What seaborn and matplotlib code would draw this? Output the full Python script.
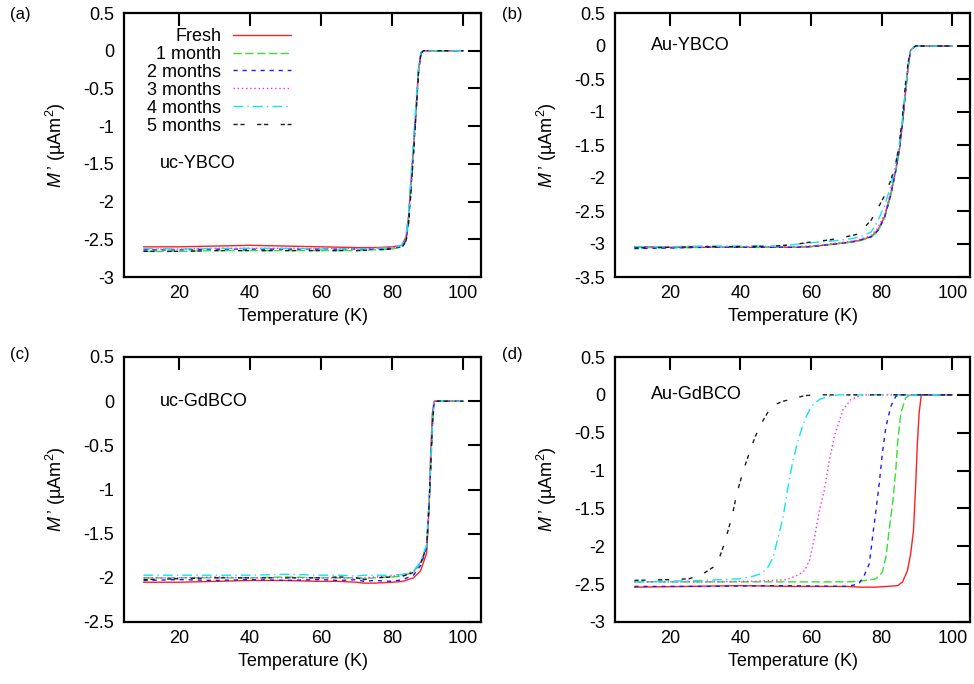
import numpy as np
import pandas as pd
import seaborn as sns
import matplotlib
matplotlib.use("Agg")
import matplotlib.pyplot as plt
from matplotlib.lines import Line2D

sns.set_theme(style="white")
plt.rcParams['font.family'] = ['Liberation Sans', 'DejaVu Sans']
plt.rcParams['axes.unicode_minus'] = False
plt.rcParams['mathtext.fontset'] = 'custom'
plt.rcParams['mathtext.rm'] = 'Liberation Sans'
plt.rcParams['mathtext.it'] = 'Liberation Sans:italic'
plt.rcParams['text.color'] = 'black'
plt.rcParams['axes.labelcolor'] = 'black'
plt.rcParams['xtick.color'] = 'black'
plt.rcParams['ytick.color'] = 'black'

series_labels = ["Fresh", "1 month", "2 months", "3 months", "4 months", "5 months"]
series_colors = ["#ff2020", "#33e033", "#1a1aff", "#ff22ff", "#10e4f0", "#1a1a1a"]
series_dashes = ["-", (0, (6, 2.5)), (0, (3, 3.5)), (0, (1, 2)), (0, (7, 3, 1, 3)), (0, (3, 2, 3, 9))]

# ---------------- panel (a): uc-YBCO ----------------
a_T = [10, 20, 30, 40, 50, 60, 70, 75, 80, 82.7, 83.9, 84.6, 85.2, 86.0, 86.8, 87.4, 88.1, 88.8, 95, 100]
a_fresh = [-2.60, -2.60, -2.59, -2.58, -2.59, -2.60, -2.61, -2.61, -2.60, -2.58, -2.47, -2.20, -1.80, -1.27, -0.70, -0.26, -0.03, 0, 0, 0]
a_m1 = [-2.66, -2.66, -2.65, -2.65, -2.65, -2.65, -2.65, -2.64, -2.63, -2.60, -2.50, -2.25, -1.85, -1.30, -0.72, -0.27, -0.03, 0, 0, 0]
a_m2 = [-2.64, -2.64, -2.63, -2.63, -2.63, -2.63, -2.63, -2.63, -2.62, -2.60, -2.52, -2.28, -1.90, -1.35, -0.75, -0.28, -0.04, 0, 0, 0]
a_m3 = [-2.63, -2.63, -2.62, -2.62, -2.62, -2.62, -2.62, -2.62, -2.61, -2.59, -2.49, -2.22, -1.82, -1.28, -0.71, -0.26, -0.03, 0, 0, 0]
a_m4 = [-2.62, -2.63, -2.62, -2.62, -2.62, -2.63, -2.63, -2.62, -2.61, -2.58, -2.45, -2.15, -1.72, -1.18, -0.62, -0.22, -0.02, 0, 0, 0]
a_m5 = [-2.66, -2.66, -2.65, -2.65, -2.65, -2.65, -2.65, -2.64, -2.63, -2.61, -2.53, -2.30, -1.93, -1.38, -0.78, -0.30, -0.04, 0, 0, 0]

# ---------------- panel (b): Au-YBCO ----------------
b_T = [10, 20, 30, 40, 50, 55, 60, 65, 70, 73.3, 77, 78.9, 80.8, 82.6, 84, 85, 85.9, 86.8, 87.5, 88.2, 89.6, 95, 100]
b_fresh = [-3.04, -3.05, -3.05, -3.05, -3.05, -3.05, -3.04, -3.01, -2.98, -2.95, -2.89, -2.79, -2.59, -2.24, -1.88, -1.58, -1.17, -0.66, -0.31, -0.06, 0, 0, 0]
b_m1 = [-3.05, -3.06, -3.05, -3.05, -3.05, -3.05, -3.04, -3.01, -2.98, -2.96, -2.90, -2.81, -2.61, -2.26, -1.90, -1.58, -1.16, -0.65, -0.30, -0.06, 0, 0, 0]
b_m2 = [-3.07, -3.06, -3.05, -3.05, -3.05, -3.05, -3.04, -3.01, -2.98, -2.95, -2.89, -2.80, -2.60, -2.25, -1.88, -1.57, -1.16, -0.65, -0.30, -0.06, 0, 0, 0]
b_m3 = [-3.04, -3.05, -3.05, -3.04, -3.04, -3.04, -3.03, -3.00, -2.97, -2.94, -2.87, -2.76, -2.55, -2.20, -1.85, -1.55, -1.15, -0.65, -0.30, -0.06, 0, 0, 0]
b_m4 = [-3.04, -3.04, -3.03, -3.03, -3.03, -3.01, -2.98, -2.96, -2.93, -2.90, -2.82, -2.65, -2.42, -2.12, -1.78, -1.48, -1.08, -0.60, -0.28, -0.05, 0, 0, 0]
b_m5 = [-3.06, -3.05, -3.04, -3.04, -3.03, -3.01, -2.97, -2.94, -2.89, -2.85, -2.64, -2.46, -2.27, -2.03, -1.78, -1.48, -1.05, -0.55, -0.25, -0.05, 0, 0, 0]

# ---------------- panel (c): uc-GdBCO ----------------
c_T = [10, 20, 30, 40, 50, 60, 65, 70, 72, 75, 80, 83, 86, 88, 89.7, 90.4, 90.8, 91.3, 91.8, 95, 100]
c_fresh = [-2.05, -2.05, -2.04, -2.03, -2.03, -2.04, -2.04, -2.05, -2.06, -2.06, -2.05, -2.04, -2.00, -1.92, -1.72, -1.20, -0.63, -0.14, 0, 0, 0]
c_m1 = [-2.00, -2.00, -2.00, -2.00, -1.99, -2.00, -2.00, -2.00, -2.01, -2.00, -1.99, -1.98, -1.93, -1.84, -1.65, -1.15, -0.78, -0.28, 0, 0, 0]
c_m2 = [-2.03, -2.02, -2.03, -2.02, -2.03, -2.02, -2.03, -2.02, -2.04, -2.03, -2.04, -2.02, -1.97, -1.86, -1.66, -1.16, -0.79, -0.29, 0, 0, 0]
c_m3 = [-2.00, -2.00, -1.99, -2.00, -2.00, -2.00, -2.00, -2.00, -2.00, -1.99, -1.98, -1.97, -1.93, -1.83, -1.64, -1.14, -0.78, -0.28, 0, 0, 0]
c_m4 = [-1.97, -1.97, -1.97, -1.97, -1.96, -1.97, -1.97, -1.98, -1.97, -1.97, -1.97, -1.96, -1.92, -1.82, -1.62, -1.12, -0.76, -0.27, 0, 0, 0]
c_m5 = [-2.02, -2.01, -2.00, -2.00, -2.00, -2.00, -1.99, -2.00, -2.02, -2.00, -1.99, -1.98, -1.94, -1.84, -1.65, -1.15, -0.78, -0.28, 0, 0, 0]

# ---------------- panel (d): Au-GdBCO ----------------
d_T_fresh = [10, 25, 40, 55, 70, 74, 78.4, 84.5, 85.9, 87.3, 88.2, 89.0, 89.6, 90.1, 90.6, 91.2, 100]
d_fresh = [-2.54, -2.53, -2.52, -2.53, -2.53, -2.54, -2.54, -2.52, -2.47, -2.32, -2.10, -1.79, -1.21, -0.64, -0.24, 0, 0]
d_T_m1 = [10, 30, 50, 70, 74.1, 78.4, 80.2, 81.2, 82.1, 83.1, 84.0, 84.5, 85.4, 86.8, 88.2, 100]
d_m1 = [-2.47, -2.47, -2.47, -2.47, -2.46, -2.43, -2.34, -2.14, -1.79, -1.43, -0.99, -0.64, -0.24, -0.04, 0, 0]
d_T_m2 = [10, 30, 50, 70, 73.5, 75.1, 76.5, 77.4, 78.4, 79.3, 80.2, 81.2, 82.6, 84.0, 85, 100]
d_m2 = [-2.53, -2.53, -2.52, -2.53, -2.50, -2.38, -2.23, -1.88, -1.52, -1.17, -0.77, -0.42, -0.15, -0.02, 0, 0]
d_T_m3 = [10, 30, 45, 53, 56.3, 58.2, 59.6, 61.0, 62.4, 63.8, 65.2, 66.6, 67.6, 69.0, 71.3, 74.1, 76, 100]
d_m3 = [-2.47, -2.47, -2.46, -2.44, -2.38, -2.32, -2.18, -1.88, -1.52, -1.25, -0.86, -0.55, -0.40, -0.20, -0.06, -0.01, 0, 0]
d_T_m4 = [10, 30, 39.5, 43.2, 46.0, 47.9, 49.3, 50.7, 52.1, 53.5, 54.9, 56.4, 58.2, 60.1, 62.4, 65.7, 68, 100]
d_m4 = [-2.47, -2.45, -2.43, -2.40, -2.36, -2.27, -2.14, -1.88, -1.61, -1.21, -0.86, -0.59, -0.33, -0.15, -0.06, -0.01, 0, 0]
d_T_m5 = [10, 20, 25.4, 29.2, 32.5, 34.3, 35.5, 37.6, 39.0, 40.9, 42.8, 44.2, 46.5, 48.8, 51.7, 58.2, 62, 100]
d_m5 = [-2.45, -2.44, -2.43, -2.37, -2.27, -2.12, -1.96, -1.61, -1.30, -0.99, -0.73, -0.55, -0.33, -0.15, -0.09, -0.01, 0, 0]

panels = [
    dict(tag="(a)", name="uc-YBCO", ylim=(-3, 0.5),
         curves=[(a_T, a_fresh), (a_T, a_m1), (a_T, a_m2), (a_T, a_m3), (a_T, a_m4), (a_T, a_m5)],
         text_xy=(14.6, -1.5)),
    dict(tag="(b)", name="Au-YBCO", ylim=(-3.5, 0.5),
         curves=[(b_T, b_fresh), (b_T, b_m1), (b_T, b_m2), (b_T, b_m3), (b_T, b_m4), (b_T, b_m5)],
         text_xy=(14.8, 0.0)),
    dict(tag="(c)", name="uc-GdBCO", ylim=(-2.5, 0.5),
         curves=[(c_T, c_fresh), (c_T, c_m1), (c_T, c_m2), (c_T, c_m3), (c_T, c_m4), (c_T, c_m5)],
         text_xy=(14.6, 0.0)),
    dict(tag="(d)", name="Au-GdBCO", ylim=(-3, 0.5),
         curves=[(d_T_fresh, d_fresh), (d_T_m1, d_m1), (d_T_m2, d_m2), (d_T_m3, d_m3), (d_T_m4, d_m4), (d_T_m5, d_m5)],
         text_xy=(14.8, 0.0)),
]

W, H = 974, 684
fig = plt.figure(figsize=(W / 100, H / 100), dpi=100)
boxes = [(124, 13, 481, 277), (615, 13, 970, 277), (124, 357, 481, 622), (615, 357, 970, 622)]
tagpos = [(10, 14), (502, 14), (10, 355), (502, 355)]
FS = 13

for p, box, tp in zip(panels, boxes, tagpos):
    l, t, r, b = box
    ax = fig.add_axes([l / W, 1 - b / H, (r - l) / W, (b - t) / H])
    for (T, M), lab, col, ls in zip(p["curves"], series_labels, series_colors, series_dashes):
        df = pd.DataFrame({"T": T, "M": M})
        sns.lineplot(data=df, x="T", y="M", ax=ax, color=col, linestyle=ls,
                     linewidth=1.0, estimator=None, sort=False, legend=False)
    ax.set_xlim(4.5, 105)
    ax.set_ylim(*p["ylim"])
    ax.set_xticks([20, 40, 60, 80, 100])
    ax.set_yticks(np.arange(p["ylim"][0], p["ylim"][1] + 0.01, 0.5))
    ax.yaxis.set_major_formatter(matplotlib.ticker.FormatStrFormatter('%g'))
    ax.tick_params(direction="in", length=9.5, width=1.5, top=True, right=True,
                   labelsize=FS, colors="black", pad=7)
    ax.tick_params(axis="x", pad=6)
    for s in ax.spines.values():
        s.set_linewidth(1.6)
        s.set_color("black")
        s.set_visible(True)
    ax.set_xlabel("Temperature (K)", fontsize=FS, labelpad=4)
    ax.set_ylabel("$\\mathit{M}$\u2009’ (µAm$^{2}$)", fontsize=FS, labelpad=11)
    ax.text(p["text_xy"][0], p["text_xy"][1], p["name"], fontsize=FS, ha="left", va="center")
    fig.text(tp[0] / W, 1 - tp[1] / H, p["tag"], fontsize=12, ha="left", va="center")
    if p["tag"] == "(a)":
        handles = [Line2D([], [], color=c, linestyle=s, linewidth=1.0)
                   for c, s in zip(series_colors, series_dashes)]
        ax.legend(handles, series_labels, loc="upper right", frameon=False,
                  bbox_to_anchor=(291 / W, 1 - 28 / H), bbox_transform=fig.transFigure,
                  markerfirst=False, fontsize=FS, handlelength=3.2, handletextpad=0.65,
                  labelspacing=0.05, borderpad=0, borderaxespad=0)

fig.savefig("out.png", dpi=100)
